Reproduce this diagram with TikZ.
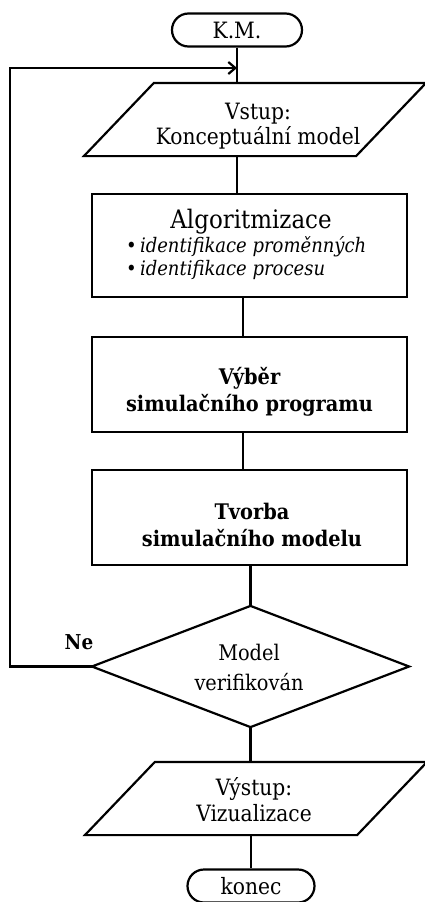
\documentclass[tikz,border=0pt]{standalone}
\usepackage{fontspec}
\setmainfont{DejaVu Serif Condensed}
\usetikzlibrary{arrows.meta,shapes.misc}
\begin{document}
\begin{tikzpicture}[x=1pt,y=-1pt,line width=2.2pt,
  txt/.style={font=\fontsize{22.5}{26}\selectfont,align=center},
  bold/.style={font=\fontsize{21.5}{27}\selectfont\bfseries,align=center},
  term/.style={draw,rounded rectangle,minimum width=#1,minimum height=33,inner sep=0,txt},
  box/.style={draw,minimum width=315,minimum height=#1,inner sep=0},
  para/.style={minimum width=270,minimum height=71,inner sep=0},
  arr/.style={-{Straight Barb[length=7pt,width=12pt]}}]
\useasboundingbox (0,0) rectangle (425,902);
% nodes
\node[term=130] (km) at (237,30) {K.M.};
\node[para] (vstup) at (255,119.5) {};
\draw ([xshift=-35]vstup.south west) -- ([xshift=35]vstup.north west) -- ([xshift=35]vstup.north east) -- ([xshift=-35]vstup.south east) -- cycle;
\node[txt,font=\fontsize{22.5}{25}\selectfont] (vstupt) at (258,126) {Vstup:\\Konceptuální model};
\node[box=103] (alg) at (249.5,245.5) {};
\node[font=\fontsize{25.5}{26}\selectfont] (algt) at (251,222) {Algoritmizace};
\node[anchor=west,inner sep=0,align=left,font=\fontsize{20}{23}\selectfont\itshape] (algb) at (125,258.5) {•\,identifikace proměnných\\•\,identifikace procesu};
\node[box=95] (vyb) at (249.5,384.5) {};
\node[bold] (vybt) at (249.5,392) {Výběr\\simulačního programu};
\node[box=95] (tvo) at (249.5,517.5) {};
\node[bold] (tvot) at (252,525) {Tvorba\\simulačního modelu};
\node[minimum width=315,minimum height=119,inner sep=0] (dia) at (250.5,666.5) {};
\draw (dia.north) -- (dia.east) -- (dia.south) -- (dia.west) -- cycle;
\node[txt,font=\fontsize{21.5}{30}\selectfont] (diat) at (249,667) {Model\\verifikován};
\node[para] (vys) at (256,798.5) {};
\draw ([xshift=-35]vys.south west) -- ([xshift=35]vys.north west) -- ([xshift=35]vys.north east) -- ([xshift=-35]vys.south east) -- cycle;
\node[txt] (vyst) at (254,800) {Výstup:\\Vizualizace};
\node[term=127] (konec) at (251,886) {konec};
\node[bold,font=\fontsize{20.5}{27}\selectfont\bfseries] (ne) at (79,642) {Ne};
% connectors
\coordinate (axa) at (237,0);
\coordinate (axb) at (243,0);
\coordinate (back) at (237,68);
\draw (km.south) -- (km.south |- vstup.north);
\draw (axa |- vstup.south) -- (axa |- alg.north);
\draw (axb |- alg.south) -- (axb |- vyb.north);
\draw (axb |- vyb.south) -- (axb |- tvo.north);
\draw (dia.north |- tvo.south) -- (dia.north);
\draw (dia.south) -- (dia.south |- vys.north);
\draw (konec.north |- vys.south) -- (konec.north);
\draw[arr] (dia.west) -- ++(-82,0) |- (back);
\end{tikzpicture}
\end{document}
